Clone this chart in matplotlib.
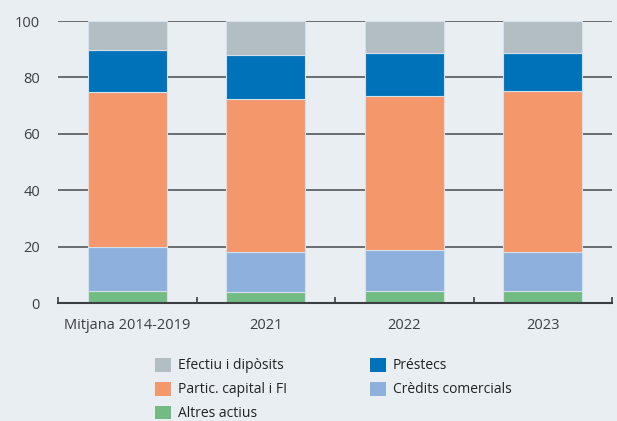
import numpy as np
import matplotlib.pyplot as plt
from matplotlib.patches import Patch

# composition of assets (%), by period
periods = ["Mitjana 2014-2019", "2021", "2022", "2023"]
altres = [4.3, 3.8, 4.3, 4.3]
credits = [15.6, 14.4, 14.7, 13.9]
partic = [54.8, 54.2, 54.6, 56.9]
prestecs = [15.0, 15.4, 14.9, 13.7]
efectiu = [10.3, 12.2, 11.5, 11.2]

series = [
    ("Altres actius", altres, "#72bc83"),
    ("Crèdits comercials", credits, "#8db0dd"),
    ("Partic. capital i FI", partic, "#f4976b"),
    ("Préstecs", prestecs, "#0072b9"),
    ("Efectiu i dipòsits", efectiu, "#b3bec3"),
]

bg = "#e9eef3"
plt.rcParams['font.family'] = ['Open Sans', 'DejaVu Sans']

fig = plt.figure(figsize=(6.17, 4.21), dpi=100, facecolor=bg)
ax = fig.add_axes([0.094, 0.280, 0.898, 0.670], facecolor=bg)

x = np.arange(len(periods))
bottom = np.zeros(len(periods))
for name, vals, col in series:
    ax.bar(x, vals, width=0.57, bottom=bottom, color=col, edgecolor="#d5e0ea",
           linewidth=0.8, zorder=3, label=name)
    bottom += np.array(vals)

ax.set_xlim(-0.5, len(periods) - 0.5)
ax.set_ylim(0, 100)
ax.set_yticks(range(0, 101, 20))
for yv in range(20, 101, 20):
    ax.axhline(yv, color="#5f6366", lw=1.3, zorder=1)

for s in ["top", "right", "left"]:
    ax.spines[s].set_visible(False)
ax.spines["bottom"].set_color("#3c3f42")
ax.spines["bottom"].set_linewidth(1.5)
ax.spines["bottom"].set_zorder(4)

ax.set_xticks(x)
ax.set_xticklabels(periods)
ax.set_xticks(np.arange(-0.5, len(periods), 1.0), minor=True)
ax.tick_params(axis="x", which="major", length=0, pad=11, labelsize=10.5, labelcolor="#3c3f42")
ax.tick_params(axis="x", which="minor", direction="in", length=4, width=1.2, color="#3c3f42")
ax.tick_params(axis="y", length=0, pad=13, labelsize=10.5, labelcolor="#3c3f42")

# legend laid out row by row: two columns
order = ["Efectiu i dipòsits", "Partic. capital i FI", "Altres actius",
         "Préstecs", "Crèdits comercials"]
cols = {name: col for name, _, col in series}
handles = [Patch(facecolor=cols[n], edgecolor="none") for n in order]
fig.legend(handles, order, loc="upper left", bbox_to_anchor=(0.251, 0.150),
           ncol=2, frameon=False, fontsize=10, handlelength=1.15, handleheight=1.15,
           handletextpad=0.5, labelspacing=0.6, columnspacing=6.0,
           borderpad=0, borderaxespad=0, labelcolor="#222222")

fig.savefig("out.png", dpi=100, facecolor=bg)
